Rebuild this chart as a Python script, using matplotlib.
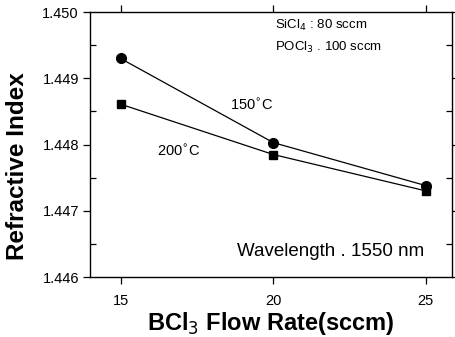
import matplotlib
matplotlib.use("Agg")
import matplotlib.pyplot as plt
from matplotlib.ticker import MultipleLocator

plt.rcParams['font.family'] = ['Liberation Sans', 'DejaVu Sans']

flow = [15, 20, 25]
ri_150 = [1.4493, 1.44803, 1.44738]
ri_200 = [1.44861, 1.44785, 1.44730]
xticks = [15, 20, 25]
yticks = [1.446, 1.447, 1.448, 1.449, 1.450]

fig = plt.figure(figsize=(4.55, 3.37), dpi=100)
ax = fig.add_axes([0.198, 0.178, 0.795, 0.786])

ax.plot(flow, ri_150, color='black', lw=0.9, marker='o', ms=7)
ax.plot(flow, ri_200, color='black', lw=0.9, marker='s', ms=6)

ax.set_xlim(14.0, 25.85)
ax.set_ylim(1.446, 1.450)
ax.set_xticks(xticks)
ax.set_yticks(yticks)
ax.set_yticklabels([f"{v:.3f}" for v in yticks])
ax.yaxis.set_minor_locator(MultipleLocator(0.0005))
ax.tick_params(axis='both', which='major', labelsize=10.5, direction='out', length=5, width=0.9)
ax.tick_params(axis='x', which='major', pad=7)
ax.tick_params(axis='y', which='major', pad=3)
ax.tick_params(axis='y', which='minor', direction='in', length=4, width=0.9, right=True)
ax.tick_params(axis='y', which='major', right=True)
ax.tick_params(axis='x', which='major', top=True)
for s in ax.spines.values():
    s.set_linewidth(1.0)

ax.set_xlabel('BCl$_3$ Flow Rate(sccm)', fontsize=17, fontweight='bold', labelpad=2)
ax.set_ylabel('Refractive Index', fontsize=17.5, fontweight='bold')
ax.yaxis.set_label_coords(-0.17, 0.42)

ax.text(20.06, 1.44980, 'SiCl$_4$ : 80 sccm', fontsize=9.5, ha='left', va='center')
ax.text(20.06, 1.44947, 'POCl$_3$ . 100 sccm', fontsize=9.5, ha='left', va='center')
ax.text(18.58, 1.44859, '150$^{\\circ}$C', fontsize=10.5, ha='left', va='center')
ax.text(16.19, 1.44789, '200$^{\\circ}$C', fontsize=10.5, ha='left', va='center')
ax.text(18.81, 1.44638, 'Wavelength . 1550 nm', fontsize=13.5, ha='left', va='center')

fig.savefig('out.png', dpi=100)
